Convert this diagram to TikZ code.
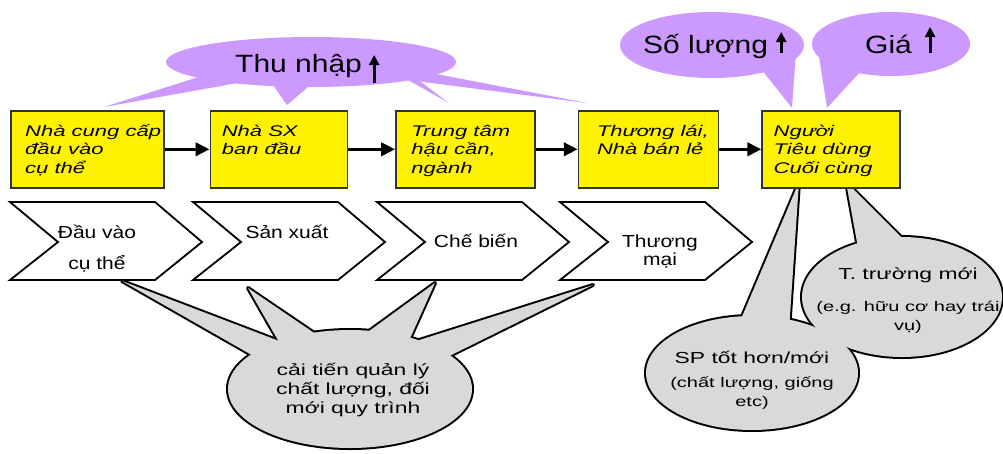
\documentclass[tikz,border=0pt]{standalone}
\usepackage{fontspec}
\setmainfont{Liberation Sans}
\newfontfamily\widefont{Liberation Sans}[FakeStretch=1.43]
\newfontfamily\headfont{Liberation Sans}[FakeStretch=1.2]
\usetikzlibrary{arrows.meta,
                positioning}
\definecolor{lilac}{RGB}{204,153,255}
\definecolor{bubblegray}{RGB}{217,217,217}
\tikzstyle{stage} = [rectangle, minimum height=77pt, inner sep=0pt, draw=black!80, line width=1.6pt, fill=yellow]
\tikzstyle{stagetext} = [align=left, inner sep=0pt, font=\widefont\itshape\fontsize{15.4}{18.5}\selectfont]
\tikzstyle{chevron} = [draw=black, line width=1.8pt, fill=white, line join=miter]
\tikzstyle{chevtext} = [align=center, inner sep=0pt, font=\headfont\fontsize{17.5}{21}\selectfont]
\tikzstyle{notetext} = [align=center, inner sep=0pt, font=\widefont\fontsize{16}{19}\selectfont]
\tikzstyle{headtext} = [inner sep=0pt, font=\headfont\fontsize{25}{30}\selectfont]
\tikzstyle{rim} = [draw=black, line width=4pt, line join=round]
\tikzstyle{flow} = [line width=3.5pt, -{Triangle[length=14pt, width=13pt]}]
\tikzstyle{rise} = [line width=3pt, -{Triangle[length=10pt, width=10pt]}]

\begin{document}
\begin{tikzpicture}[x=1pt, y=-1pt]
        \useasboundingbox (0,0) rectangle (1003,453);
        % purple bubbles
        \fill[lilac] (311,62) ellipse [x radius=145, y radius=25];
        \fill[lilac] (712,45) ellipse [x radius=92, y radius=33];
        \fill[lilac] (891,44) ellipse [x radius=79, y radius=32];
        \foreach \p/\q/\r in {{104,107}/{230,67}/{260,79}, {287,105}/{266,75}/{322,75},
                              {449,103}/{390,70}/{405,70}, {587,103}/{400,67}/{400,79},
                              {792,108}/{750,55}/{796,52}, {827,108}/{818,50}/{871,60}}
            \fill[lilac] (\p) -- (\q) -- (\r) -- cycle;
        % grey bubbles
        \def\greytails{{122,281}/{278,370}/{308,352}, {248,288}/{287,356}/{329,343},
                       {435,283}/{354,342}/{403,354}, {593,285}/{394,348}/{425,368},
                       {799,182}/{730,345}/{788,345}, {846,182}/{863,275}/{924,260}}
        \foreach \p/\q/\r in \greytails
            \draw[rim] (\p) -- (\q) -- (\r) -- cycle;
        \draw[rim] (350,389) ellipse [x radius=122, y radius=59];
        \draw[rim] (902,297) ellipse [x radius=100, y radius=60];
        \draw[rim] (752,373) ellipse [x radius=106, y radius=57];
        \foreach \p/\q/\r in \greytails
            \fill[bubblegray] (\p) -- (\q) -- (\r) -- cycle;
        \fill[bubblegray] (350,389) ellipse [x radius=122, y radius=59];
        \fill[bubblegray] (902,297) ellipse [x radius=100, y radius=60];
        \fill[bubblegray] (752,373) ellipse [x radius=106, y radius=57];
        % chevrons
        \draw[chevron] (10,202) -- ++(145,0) -- ++(47,40) -- ++(-47,38) -- ++(-145,0) -- ++(48,-38) -- cycle;
        \draw[chevron] (193,202) -- ++(145,0) -- ++(47,40) -- ++(-47,38) -- ++(-145,0) -- ++(48,-38) -- cycle;
        \draw[chevron] (377,202) -- ++(145,0) -- ++(47,40) -- ++(-47,38) -- ++(-145,0) -- ++(48,-38) -- cycle;
        \draw[chevron] (560,202) -- ++(145,0) -- ++(47,40) -- ++(-47,38) -- ++(-145,0) -- ++(48,-38) -- cycle;
        % stages
        \node (supplier) [stage, minimum width=153pt, anchor=north west] at (10,110) {};
        \node (producer) [stage, minimum width=137pt, right=45pt of supplier] {};
        \node (hub) [stage, minimum width=139pt, right=47pt of producer] {};
        \node (trader) [stage, minimum width=140pt, right=42pt of hub] {};
        \node (consumer) [stage, minimum width=138pt, right=42pt of trader] {};
        \draw [flow] (supplier) -- (producer);
        \draw [flow] (producer) -- (hub);
        \draw [flow] (hub) -- (trader);
        \draw [flow] (trader) -- (consumer);
        % base anchor = last line
        \node (suppliertext) [stagetext, below right=63pt and 15pt of supplier.north west, anchor=base west] {Nhà cung cấp\\đầu vào\\cụ thể};
        \node (producertext) [stagetext, below right=44.5pt and 12pt of producer.north west, anchor=base west] {Nhà SX\\ban đầu};
        \node (hubtext) [stagetext, below right=63pt and 16pt of hub.north west, anchor=base west] {Trung tâm\\hậu cần,\\ngành};
        \node (tradertext) [stagetext, below right=44.5pt and 19pt of trader.north west, anchor=base west] {Thương lái,\\Nhà bán lẻ};
        \node (consumertext) [stagetext, below right=63pt and 12pt of consumer.north west, anchor=base west] {Người\\Tiêu dùng\\Cuối cùng};
        % chevron labels
        \node (inputs) [chevtext, anchor=base] at (97,269) {Đầu vào\\[10pt]cụ thể};
        \node (farming) [chevtext, anchor=base] at (287,238) {Sản xuất};
        \node (processing) [chevtext, anchor=base] at (476,247) {Chế biến};
        \node (trading) [chevtext, anchor=base] at (660,265) {Thương\\[-3pt]mại};
        % bubble labels
        \node (income) [headtext, anchor=base west] at (235,72) {Thu nhập};
        \node (volume) [headtext, anchor=base west] at (643,53) {Số lượng};
        \node (price) [headtext, anchor=base west] at (865,53) {Giá};
        \draw [rise] ([xshift=12pt, yshift=-11pt]income.base east) -- ++(0,-28);
        \draw [rise] ([xshift=13pt]volume.base east) -- ++(0,-21);
        \draw [rise] ([xshift=18pt]price.base east) -- ++(0,-26);
        \node (improve) [notetext, anchor=base] at (353,413) {cải tiến quản lý\\chất lượng, đối\\mới quy trình};
        \node (newprod) [notetext, anchor=base] at (752,406) {SP tốt hơn/mới\\[5pt]\fontsize{14}{19}\selectfont (chất lượng, giống\\\fontsize{14}{19}\selectfont etc)};
        \node (market) [notetext, anchor=base] at (908,330) {T. trường mới\\[13pt]\fontsize{14}{19}\selectfont (e.g. hữu cơ hay trái\\\fontsize{14}{19}\selectfont vụ)};
\end{tikzpicture}
\end{document}
